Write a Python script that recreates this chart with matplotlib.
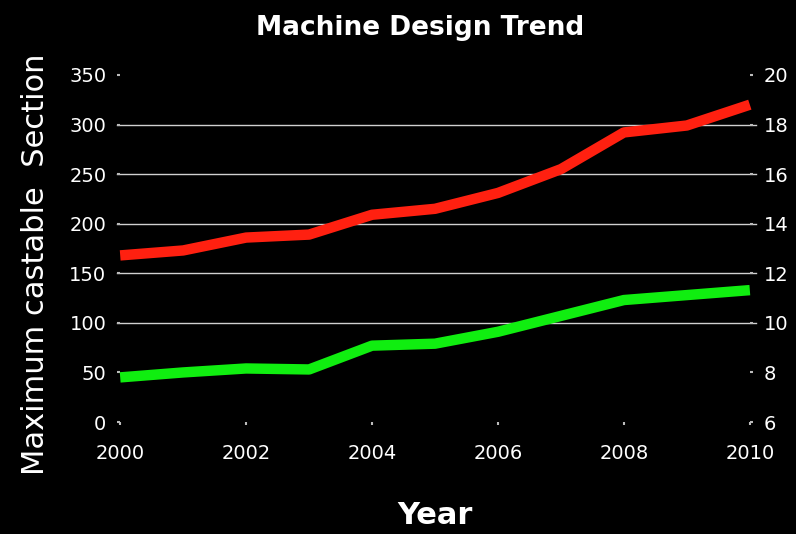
import matplotlib
matplotlib.use("Agg")
import matplotlib.pyplot as plt
from matplotlib import font_manager

names = sorted({f.name for f in font_manager.fontManager.ttflist})
if "Liberation Sans Narrow" in names:
    narrow = "Liberation Sans Narrow"
elif "DejaVu Sans Condensed" in names:
    narrow = "DejaVu Sans Condensed"
else:
    narrow = "DejaVu Sans"

years = [2000, 2001, 2002, 2003, 2004, 2005, 2006, 2007, 2008, 2009, 2010]
red_values = [168, 173, 186, 189, 209, 215, 231, 255, 292, 299, 320]
green_values = [45, 50, 54, 53, 77, 79, 91, 107, 123, 128, 133]
left_ticks = [0, 50, 100, 150, 200, 250, 300, 350]
right_ticks = [6, 8, 10, 12, 14, 16, 18, 20]
grid_values = [100, 150, 200, 250, 300]
x_ticks = [2000, 2002, 2004, 2006, 2008, 2010]

fig = plt.figure(figsize=(7.96, 5.34), dpi=100, facecolor="black")
ax = fig.add_axes([0.151, 0.2097, 0.791, 0.65], facecolor="black")
ax.set_xlim(2000, 2010)
ax.set_ylim(0, 350)

for g in grid_values:
    ax.axhline(g, color="#d0d0d0", lw=1.0, xmin=-0.005, xmax=1.01, clip_on=False, zorder=1)

ax.plot(years, red_values, color="#ff2010", lw=7.5, solid_joinstyle="round", solid_capstyle="butt", zorder=3, clip_on=False)
ax.plot(years, green_values, color="#10ee10", lw=7.5, solid_joinstyle="round", solid_capstyle="butt", zorder=3, clip_on=False)

for s in ax.spines.values():
    s.set_visible(False)
ax.set_yticks(left_ticks)
ax.set_xticks(x_ticks)
ax.tick_params(axis="both", colors="#bbbbbb", length=2, width=1.5, labelcolor="white")
ax.tick_params(axis="y", pad=8)
ax.tick_params(axis="x", pad=14)
for lab in ax.get_xticklabels() + ax.get_yticklabels():
    lab.set_family(narrow)
    lab.set_fontsize(14)

ax2 = ax.twinx()
ax2.set_ylim(6, 20)
ax2.set_yticks(right_ticks)
for s in ax2.spines.values():
    s.set_visible(False)
ax2.tick_params(axis="y", colors="#bbbbbb", length=2, width=1.5, labelcolor="white", pad=8)
for lab in ax2.get_yticklabels():
    lab.set_family(narrow)
    lab.set_fontsize(14)

fig.text(0.528, 0.947, "Machine Design Trend", color="white", fontsize=19, fontweight="bold",
         family=narrow, ha="center", va="center")
fig.text(0.547, 0.035, "Year", color="white", fontsize=22, fontweight="bold",
         family=narrow, ha="center", va="center")
fig.text(0.044, 0.505, "Maximum castable  Section", color="white", fontsize=22,
         family="DejaVu Sans", rotation=90, ha="center", va="center")

fig.savefig("out.png", dpi=100, facecolor="black")
